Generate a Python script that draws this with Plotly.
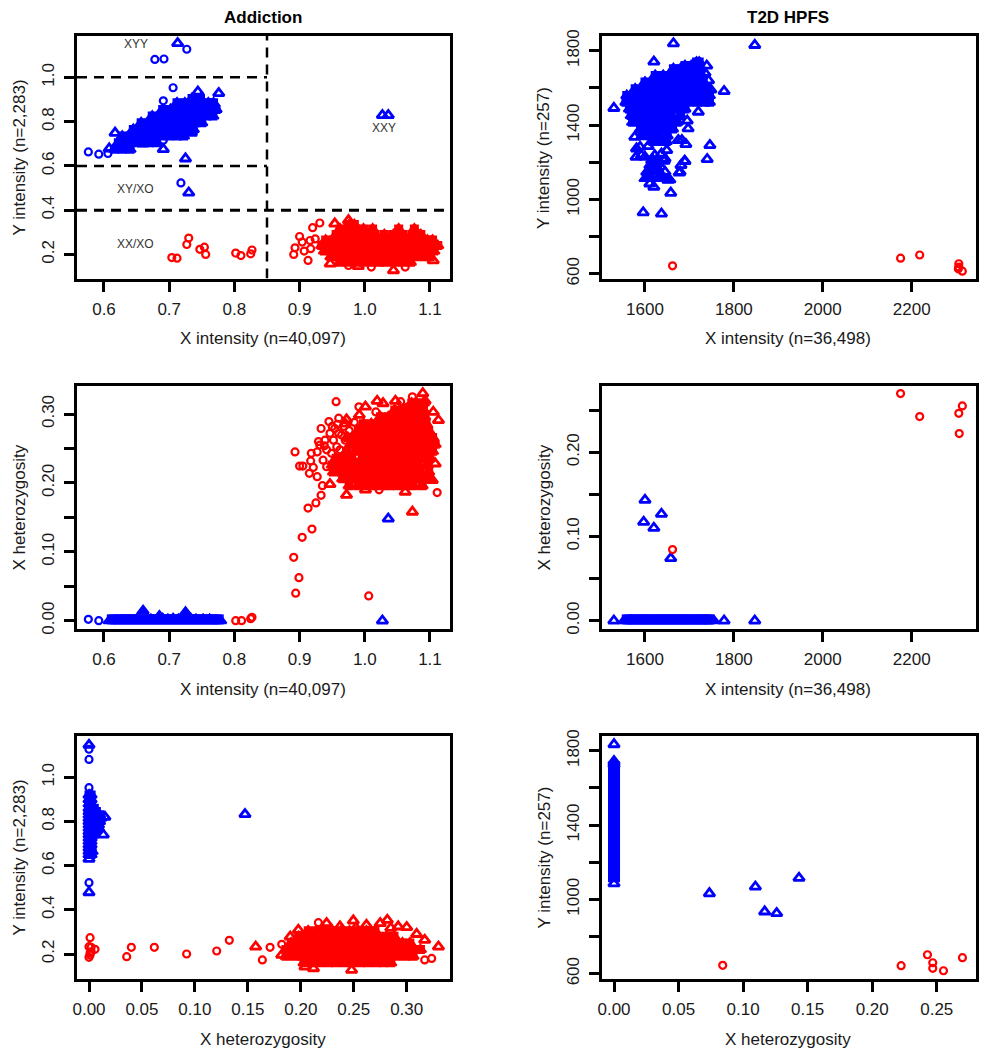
import plotly.graph_objects as go

BLUE = "#0000ff"
RED = "#ff0000"

# ---------- Panel 1: Addiction, X intensity vs Y intensity ----------
a_xy_blue_rows = [
    (.675, [.616, .628, .640]),
    (.705, [.622, .634, .646, .658, .670, .680]),
    (.735, [.628, .640, .652, .664, .676, .688, .700, .712, .722]),
    (.765, [.645, .657, .669, .681, .693, .705, .717, .729, .737]),
    (.795, [.657, .669, .681, .693, .705, .717, .729, .741, .750]),
    (.825, [.674, .686, .698, .710, .722, .734, .746, .758, .767]),
    (.855, [.690, .702, .714, .726, .738, .750, .762, .772]),
    (.885, [.712, .724, .736, .748, .760, .768]),
    (.905, [.735, .748]),
]
a_xy_red_rows = [
    (.165, [.962, .974, .986, .998, 1.010, 1.022, 1.034, 1.046, 1.058, 1.070]),
    (.190, [.948, .960, .972, .984, .996, 1.008, 1.020, 1.032, 1.044, 1.056, 1.068, 1.080, 1.092, 1.100]),
    (.215, [.938, .950, .962, .974, .986, .998, 1.010, 1.022, 1.034, 1.046, 1.058, 1.070, 1.082, 1.094, 1.106]),
    (.240, [.934, .946, .958, .970, .982, .994, 1.006, 1.018, 1.030, 1.042, 1.054, 1.066, 1.078, 1.090, 1.102, 1.112]),
    (.265, [.940, .952, .964, .976, .988, 1.000, 1.012, 1.024, 1.036, 1.048, 1.060, 1.072, 1.084, 1.096, 1.104]),
    (.290, [.956, .968, .980, .992, 1.004, 1.016, 1.030, 1.044, 1.058, 1.072, 1.086]),
    (.315, [.962, .974, .986, .998, 1.012, 1.052, 1.076]),
    (.335, [.976, .984]),
]
a_xy_blue_circ_x = [.576, .592, .606, .678, .692, .727, .706, .718, .691, .691]
a_xy_blue_circ_y = [.663, .653, .656, 1.081, 1.083, 1.127, .953, .523, .894, .716]
a_xy_blue_tri_x = [.713, .744, .776, .617, .608, .734, .691, .725, .730, 1.027, 1.036, .677, .660]
a_xy_blue_tri_y = [1.154, .935, .928, .749, .678, .749, .675, .633, .479, .829, .829, .719, .700]
a_xy_red_circ_x = [.704, .712, .727, .730, .747, .754, .756, .802, .810, .825, .827, .891, .893, .900, .904,
                   .907, .913, .917, .916, .920, .931, .924, .975, 1.010, 1.026, 1.062]
a_xy_red_circ_y = [.186, .183, .245, .274, .223, .233, .200, .206, .195, .203, .220, .200, .230, .281, .256,
                   .215, .173, .226, .263, .321, .342, .270, .150, .143, .165, .143]
a_xy_red_tri_x = [.947, 1.044, 1.105, .954, .975, .990]
a_xy_red_tri_y = [.158, .128, .173, .339, .354, .147]

# ---------- Panel 2: T2D HPFS, X intensity vs Y intensity ----------
t_xy_blue_rows = [
    (1739, [1716, 1722]),
    (1720, [1690, 1704, 1716]),
    (1703, [1664, 1680, 1696, 1712, 1724]),
    (1667, [1623, 1641, 1659, 1677, 1695, 1713, 1726]),
    (1631, [1600, 1618, 1636, 1654, 1672, 1690, 1708, 1722, 1731]),
    (1595, [1578, 1596, 1614, 1632, 1650, 1668, 1686, 1704, 1722, 1740]),
    (1559, [1559, 1577, 1595, 1613, 1631, 1649, 1667, 1685, 1703, 1721, 1735, 1745]),
    (1523, [1557, 1575, 1593, 1611, 1629, 1647, 1665, 1683, 1701, 1719, 1735, 1745]),
    (1487, [1565, 1583, 1601, 1619, 1637, 1655, 1673, 1690]),
    (1451, [1569, 1587, 1605, 1623, 1641, 1659, 1680]),
    (1415, [1572, 1590, 1608, 1626, 1644, 1662, 1672]),
    (1379, [1590, 1608, 1626, 1644, 1662]),
    (1343, [1594, 1612, 1630, 1650]),
    (1312, [1618, 1634, 1648]),
]
t_xy_blue_core_x = [1611, 1622, 1604, 1615, 1630, 1600, 1615, 1637, 1645, 1656, 1652, 1626, 1634, 1607, 1630, 1615, 1619]
t_xy_blue_core_y = [1184, 1184, 1148, 1148, 1157, 1112, 1112, 1112, 1112, 1106, 1103, 1175, 1130, 1139, 1193, 1211, 1211]
t_xy_blue_tri_x = [1664, 1847, 1620, 1739, 1530, 1778, 1720, 1697, 1695, 1746, 1740, 1690, 1679, 1681, 1658, 1596,
                   1637, 1620, 1611, 1577, 1581, 1589, 1607, 1580, 1592, 1600, 1622, 1637, 1649, 1645, 1643, 1645,
                   1675, 1683, 1692, 1689, 1677, 1735, 1748, 1743]
t_xy_blue_tri_y = [1839, 1830, 1740, 1719, 1491, 1582, 1471, 1381, 1423, 1291, 1216, 1205, 1148, 1184, 1035, 930,
                   923, 1067, 1085, 1336, 1273, 1282, 1286, 1228, 1237, 1228, 1237, 1246, 1264, 1219, 1207, 1148,
                   1318, 1318, 1297, 1207, 1144, 1680, 1590, 1640]
t_xy_red_x = [1662, 2175, 2218, 2306, 2305, 2306, 2314]
t_xy_red_y = [643, 684, 701, 654, 627, 636, 614]

# ---------- Panel 3: Addiction, X intensity vs X heterozygosity ----------
a_xh_red_rows = [
    (.196, [.976, .990, 1.002, 1.014, 1.026, 1.038, 1.050, 1.062, 1.074, 1.088]),
    (.206, [.966, .978, .990, 1.002, 1.014, 1.026, 1.038, 1.050, 1.062, 1.074, 1.086, 1.098]),
    (.216, [.952, .964, .976, .988, 1.000, 1.012, 1.024, 1.036, 1.048, 1.060, 1.072, 1.084, 1.098]),
    (.226, [.950, .962, .974, .986, .998, 1.010, 1.022, 1.034, 1.046, 1.058, 1.070, 1.082, 1.096]),
    (.236, [.956, .968, .980, .996, 1.008, 1.020, 1.032, 1.044, 1.056, 1.068, 1.080, 1.092, 1.100]),
    (.246, [.972, .986, .998, 1.010, 1.022, 1.034, 1.046, 1.058, 1.070, 1.082, 1.094, 1.104]),
    (.256, [.978, .990, 1.002, 1.014, 1.026, 1.038, 1.050, 1.062, 1.074, 1.086, 1.098, 1.108]),
    (.266, [.974, .986, .998, 1.010, 1.022, 1.034, 1.046, 1.058, 1.070, 1.082, 1.094, 1.104]),
    (.276, [.990, 1.002, 1.014, 1.026, 1.038, 1.050, 1.062, 1.074, 1.086, 1.098]),
    (.286, [.998, 1.010, 1.022, 1.034, 1.046, 1.058, 1.070, 1.082, 1.094]),
    (.296, [1.024, 1.036, 1.048, 1.060, 1.072, 1.084, 1.092]),
    (.306, [1.046, 1.058, 1.070, 1.082, 1.090]),
    (.316, [1.072, 1.080, 1.090]),
]
a_xh_red_circ_x = [.802, .811, .825, .827, .891, .899, .894, .904, .919, .913, .925, .933, .935, .915, .927, .921,
                   .900, .905, .893, .917, .918, .927, .929, .933, .956, .945, .960, 1.006, 1.111, 1.022, .991,
                   1.017, 1.073, 1.055, 1.065, .936, .9415, .952, .949, .957, .939, .9466, .954, .9645, .962,
                   .975, .931, .9415, .968, .976, .984, .958, .970, .950, .938, .960]
a_xh_red_circ_y = [0, 0, .003, .005, .092, .0624, .040, .121, .133, .1635, .171, .182, .196, .214, .209, .2225,
                   .2245, .2245, .245, .232, .243, .245, .260, .279, .318, .289, .294, .036, .186, .190, .3105,
                   .303, .325, .318, .310, .233, .248, .262, .243, .2525, .262, .272, .279, .2695, .248,
                   .2405, .255, .2235, .282, .276, .288, .285, .262, .282, .254, .272]
a_xh_red_tri_x = [.972, 1.001, 1.073, 1.062, .9466, .972, .9916, 1.001, 1.019, 1.028, 1.047, 1.089, 1.0925,
                  1.105, 1.113, 1.108, 1.1035, .970]
a_xh_red_tri_y = [.1824, .190, .158, .187, .198, .292, .2985, .3105, .319, .3155, .319, .330, .319,
                  .303, .291, .228, .204, .286]
a_xh_blue_strip_x = [.612, .617, .622, .627, .632, .637, .642, .647, .652, .657, .662, .667, .672, .677, .682, .687,
                     .692, .697, .702, .707, .712, .717, .722, .727, .732, .737, .742, .747, .752, .757, .762, .767,
                     .772, .776]
a_xh_blue_tri_end_x = [.608, .779]
a_xh_blue_tri_end_y = [0, 0]
a_xh_blue_bump_x = [.650, .672, .690, .698, .706, .714, .722, .733, .741, .752, .762, .685, .660, .725]
a_xh_blue_bump_y = [.002, .002, .003, .002, .003, .002, .003, .003, .002, .002, .002, .007, .0145, .0125]
a_xh_blue_circ_x = [.576, .592]
a_xh_blue_circ_y = [.002, 0]
a_xh_blue_tri_x = [1.027, 1.036]
a_xh_blue_tri_y = [0, .148]

# ---------- Panel 4: T2D HPFS, X intensity vs X heterozygosity ----------
t_xh_blue_strip_x = [1559, 1566, 1573, 1580, 1587, 1594, 1601, 1608, 1615, 1622, 1629, 1636, 1643, 1650,
                     1657, 1664, 1671, 1678, 1685, 1692, 1699, 1706, 1713, 1720, 1727, 1734, 1741, 1745]
t_xh_blue_tri_end_x = [1553, 1755]
t_xh_blue_tri_end_y = [0, 0]
t_xh_blue_tri_x = [1600, 1597, 1637, 1620, 1658, 1530, 1778, 1847]
t_xh_blue_tri_y = [.1434, .1172, .1267, .1101, .0741, 0, 0, 0]
t_xh_red_x = [2175, 2218, 2306, 2314, 2307, 1662]
t_xh_red_y = [.2697, .2424, .2463, .255, .2222, .0844]

# ---------- Panel 5: Addiction, X heterozygosity vs Y intensity ----------
a_hy_red_rows = [
    (.160, [.203, .211, .218, .226, .233, .241, .248, .256, .263, .271, .278, .285]),
    (.190, [.186, .194, .201, .209, .216, .224, .231, .239, .246, .254, .261, .269, .276, .284, .291, .299, .306]),
    (.220, [.186, .194, .201, .209, .216, .224, .231, .239, .246, .254, .261, .269, .276, .284, .291, .299, .306, .313]),
    (.250, [.191, .199, .206, .214, .221, .229, .236, .244, .251, .259, .266, .274, .281, .289, .296, .303]),
    (.280, [.198, .206, .213, .221, .228, .236, .243, .251, .258, .266, .273, .281, .288]),
    (.305, [.207, .215, .222, .230, .238, .246, .254, .262, .270]),
]
a_hy_red_tri_x = [.2496, .262, .275, .2817, .292, .300, .3094, .317, .330, .237, .2244, .1977, .190, .248, .1574,
                  .182, .204, .212, .237, .2685, .252, .285]
a_hy_red_tri_y = [.351, .331, .339, .354, .324, .321, .290, .263, .233, .324, .339, .3087, .278, .1275, .233,
                  .1955, .1426, .135, .158, .158, .318, .318]
a_hy_red_circ_x = [.001, 0, .002, .0057, 0, .001, .001, .002, .0356, .040, .0617, .0922, .1206, .1325, .1637,
                   .171, .182, .2166, .3236, .317]
a_hy_red_circ_y = [.274, .233, .210, .221, .185, .205, .195, .230, .188, .230, .230, .200, .2136, .262, .173,
                   .230, .244, .342, .180, .173]
a_hy_blue_fill_x = [0, .002, 0, .002, 0, .002, 0, .002, .005, 0, .003, .007, 0, .003, .006, .010, 0, .003, .006, .011,
                    0, .003, .006, .010, 0, .003, .006, .009, 0, .003, .006, 0, .003, .005, 0, .002, .004, 0, .002,
                    0, .002, 0, .002, 0, .001, 0, .001, .003, 0, .002, .007, .009]
a_hy_blue_fill_y = [.92, .92, .90, .90, .88, .88, .86, .86, .86, .845, .845, .845, .83, .83, .83, .83, .815, .815,
                    .815, .815, .80, .80, .80, .80, .785, .785, .785, .785, .77, .77, .77, .755, .755, .755, .74,
                    .74, .74, .725, .725, .71, .71, .695, .695, .68, .68, .665, .665, .665, .65, .65, .76, .77]
a_hy_blue_tri_x = [.1473, .0135, 0, .015, 0, 0]
a_hy_blue_tri_y = [.8325, .740, 1.146, .820, .630, .479]
a_hy_blue_circ_x = [0, 0, 0, 0]
a_hy_blue_circ_y = [1.127, 1.081, .953, .523]

# ---------- Panel 6: T2D HPFS, X heterozygosity vs Y intensity ----------
t_hy_blue_strip_y = [1125, 1140, 1155, 1170, 1185, 1200, 1215, 1230, 1245, 1260, 1275, 1290, 1305, 1320, 1335,
                     1350, 1365, 1380, 1395, 1410, 1425, 1440, 1455, 1470, 1485, 1500, 1515, 1530, 1545, 1560, 1575,
                     1590, 1605, 1620, 1635, 1650, 1665, 1680, 1695, 1710]
t_hy_blue_top_y = [1725, 1735, 1745]
t_hy_blue_tri_x = [0, .0739, .1095, .1167, .126, .1433, 0]
t_hy_blue_tri_y = [1834, 1032, 1068, 934, 925, 1115, 1085]
t_hy_red_x = [.0842, .2224, .2428, .2469, .2469, .2552, .2699]
t_hy_red_y = [645, 643, 702, 659, 629, 616, 686]

# ---------- Axis ticks ----------
ticks_a_xint = [.6, .7, .8, .9, 1.0, 1.1]
labels_a_xint = ["0.6", "0.7", "0.8", "0.9", "1.0", "1.1"]
ticks_a_yint = [.2, .4, .6, .8, 1.0]
labels_a_yint = ["0.2", "0.4", "0.6", "0.8", "1.0"]
ticks_t_xint = [1600, 1800, 2000, 2200]
labels_t_xint = ["1600", "1800", "2000", "2200"]
ticks_t_yint = [600, 800, 1000, 1200, 1400, 1600, 1800]
labels_t_yint = ["600", "", "1000", "", "1400", "", "1800"]
ticks_a_het = [0, .05, .10, .15, .20, .25, .30]
labels_a_het_y = ["0.00", "", "0.10", "", "0.20", "", "0.30"]
labels_a_het_x = ["0.00", "0.05", "0.10", "0.15", "0.20", "0.25", "0.30"]
ticks_t_het_y = [0, .05, .10, .15, .20, .25]
labels_t_het_y = ["0.00", "", "0.10", "", "0.20", ""]
labels_t_het_x = ["0.00", "0.05", "0.10", "0.15", "0.20", "0.25"]

FONT = "Liberation Sans, Arial, sans-serif"
TEXT = "#1a1a1a"
W, H = 987, 1050

COL_PX = [(77, 450), (602, 976)]
ROW_PX = [(36, 278.5), (386, 629), (736, 979)]

fig = go.Figure()


def flat(rows):
    xs, ys = [], []
    for y, row in rows:
        for x in row:
            xs.append(x)
            ys.append(y)
    return xs, ys


def pts(ax, x, y, color, symbol, size=10, width=2.2):
    fig.add_trace(go.Scatter(x=x, y=y, mode="markers", xaxis=f"x{ax}", yaxis=f"y{ax}", showlegend=False,
                             hoverinfo="skip", cliponaxis=False,
                             marker=dict(symbol=symbol, size=size, color=color,
                                         line=dict(color=color, width=width))))


def tri(ax, x, y, color):
    pts(ax, x, y, color, "triangle-up-open", size=9.5, width=2.8)


def circ(ax, x, y, color):
    pts(ax, x, y, color, "circle-open", size=7, width=2.2)


def solid(ax, x, y, color):
    pts(ax, x, y, color, "square", size=7, width=2)
    pts(ax, x, y, color, "triangle-up", size=10, width=2)


def thin(ax, x, y, color):
    pts(ax, x, y, color, "triangle-up", size=10, width=2)


def bar(ax, x, level, color):
    pts(ax, x, [level] * len(x), color, "square", size=10, width=0)


# Panel 1
solid(1, *flat(a_xy_blue_rows), BLUE)
solid(1, *flat(a_xy_red_rows), RED)
circ(1, a_xy_blue_circ_x, a_xy_blue_circ_y, BLUE)
tri(1, a_xy_blue_tri_x, a_xy_blue_tri_y, BLUE)
circ(1, a_xy_red_circ_x, a_xy_red_circ_y, RED)
tri(1, a_xy_red_tri_x, a_xy_red_tri_y, RED)

# Panel 2
solid(2, *flat(t_xy_blue_rows), BLUE)
thin(2, t_xy_blue_core_x, t_xy_blue_core_y, BLUE)
tri(2, t_xy_blue_tri_x, t_xy_blue_tri_y, BLUE)
circ(2, t_xy_red_x, t_xy_red_y, RED)

# Panel 3
solid(3, *flat(a_xh_red_rows), RED)
circ(3, a_xh_red_circ_x, a_xh_red_circ_y, RED)
tri(3, a_xh_red_tri_x, a_xh_red_tri_y, RED)
bar(3, a_xh_blue_strip_x, .0019, BLUE)
thin(3, a_xh_blue_tri_end_x, a_xh_blue_tri_end_y, BLUE)
thin(3, a_xh_blue_bump_x, a_xh_blue_bump_y, BLUE)
circ(3, a_xh_blue_circ_x, a_xh_blue_circ_y, BLUE)
tri(3, a_xh_blue_tri_x, a_xh_blue_tri_y, BLUE)

# Panel 4
bar(4, t_xh_blue_strip_x, .0015, BLUE)
thin(4, t_xh_blue_tri_end_x, t_xh_blue_tri_end_y, BLUE)
tri(4, t_xh_blue_tri_x, t_xh_blue_tri_y, BLUE)
circ(4, t_xh_red_x, t_xh_red_y, RED)

# Panel 5
solid(5, *flat(a_hy_red_rows), RED)
tri(5, a_hy_red_tri_x, a_hy_red_tri_y, RED)
circ(5, a_hy_red_circ_x, a_hy_red_circ_y, RED)
solid(5, a_hy_blue_fill_x, a_hy_blue_fill_y, BLUE)
tri(5, a_hy_blue_tri_x, a_hy_blue_tri_y, BLUE)
circ(5, a_hy_blue_circ_x, a_hy_blue_circ_y, BLUE)

# Panel 6
pts(6, [0] * len(t_hy_blue_strip_y), t_hy_blue_strip_y, BLUE, "square", size=10, width=2)
thin(6, [0] * len(t_hy_blue_top_y), t_hy_blue_top_y, BLUE)
tri(6, t_hy_blue_tri_x, t_hy_blue_tri_y, BLUE)
circ(6, t_hy_red_x, t_hy_red_y, RED)


def axis(rng, ticks, labels, anchor, angle=0):
    return dict(range=rng, tickmode="array", tickvals=ticks, ticktext=labels, anchor=anchor, automargin=False,
                showgrid=False, zeroline=False, showline=True, mirror=True, linecolor="black", linewidth=3,
                ticks="outside", ticklen=10, tickwidth=2.5, tickcolor="black", tickangle=angle,
                ticklabelstandoff=3, tickfont=dict(family=FONT, size=17, color=TEXT))


panels = [
    (1, 0, 0, [.5586, 1.1307], ticks_a_xint, labels_a_xint, [.0913, 1.1869], ticks_a_yint, labels_a_yint),
    (2, 1, 0, [1503.3, 2344.7], ticks_t_xint, labels_t_xint, [574.7, 1879], ticks_t_yint, labels_t_yint),
    (3, 0, 1, [.5586, 1.1307], ticks_a_xint, labels_a_xint, [-.01205, .3407], ticks_a_het, labels_a_het_y),
    (4, 1, 1, [1503.3, 2344.7], ticks_t_xint, labels_t_xint, [-.00986, .2787], ticks_t_het_y, labels_t_het_y),
    (5, 0, 2, [-.01133, .3409], ticks_a_het, labels_a_het_x, [.0868, 1.187], ticks_a_yint, labels_a_yint),
    (6, 1, 2, [-.0093, .2804], ticks_t_het_y, labels_t_het_x, [571.5, 1879], ticks_t_yint, labels_t_yint),
]
layout = {}
for n, c, r, xr, xt, xl, yr, yt, yl in panels:
    xa = axis(xr, xt, xl, f"y{n}")
    xa["domain"] = [COL_PX[c][0] / W, COL_PX[c][1] / W]
    ya = axis(yr, yt, yl, f"x{n}", angle=-90)
    ya["domain"] = [1 - ROW_PX[r][1] / H, 1 - ROW_PX[r][0] / H]
    layout[f"xaxis{n}"] = xa
    layout[f"yaxis{n}"] = ya

ann = []


def label(text, px, py, size=17, angle=0, bold=False):
    ann.append(dict(text=f"<b>{text}</b>" if bold else text, xref="paper", yref="paper", x=px / W, y=1 - py / H,
                    xanchor="center", yanchor="middle", showarrow=False, textangle=angle,
                    font=dict(family=FONT, size=size, color=TEXT if not bold else "black")))


label("Addiction", 263, 17.5, bold=True)
label("T2D HPFS", 788, 17.5, bold=True)
label("X intensity (n=40,097)", 262.5, 338)
label("X intensity (n=36,498)", 787.7, 338)
label("X intensity (n=40,097)", 262.5, 689)
label("X intensity (n=36,498)", 787.7, 689)
label("X heterozygosity", 262.5, 1039)
label("X heterozygosity", 787.7, 1039)
label("Y intensity (n=2,283)", 19, 157.5, angle=-90)
label("Y intensity (n=257)", 544, 158, angle=-90)
label("X heterozygosity", 19, 507.5, angle=-90)
label("X heterozygosity", 544, 507.5, angle=-90)
label("Y intensity (n=2,283)", 19, 857.5, angle=-90)
label("Y intensity (n=257)", 544, 857.5, angle=-90)

region_names = ["XYY", "XXY", "XY/XO", "XX/XO"]
region_x = [.6486, 1.029, .6486, .6486]
region_y = [1.149, .769, .497, .248]
for t, x, y in zip(region_names, region_x, region_y):
    ann.append(dict(text=t, xref="x1", yref="y1", x=x, y=y, showarrow=False,
                    font=dict(family=FONT, size=12, color="#333333")))

hline_y = [1.0, .6, .4]
hline_x1 = [.85, .85, 1.1307]
hline_w = [2.5, 2.5, 3]
shapes = []
for y, x1, w in zip(hline_y, hline_x1, hline_w):
    shapes.append(dict(type="line", xref="x1", yref="y1", x0=.5586, x1=x1, y0=y, y1=y, layer="above",
                       line=dict(color="black", width=w, dash="10px,7px")))
shapes.append(dict(type="line", xref="x1", yref="y1", x0=.85, x1=.85, y0=.0913, y1=1.1869, layer="above",
                   line=dict(color="black", width=2.5, dash="10px,7px")))

fig.update_layout(width=W, height=H, margin=dict(l=0, r=0, t=0, b=0), paper_bgcolor="white", plot_bgcolor="white",
                  template="none", showlegend=False, annotations=ann, shapes=shapes, **layout)
fig.write_html("out.html", config={"displayModeBar": False}, post_script="document.body.style.margin='0';")
